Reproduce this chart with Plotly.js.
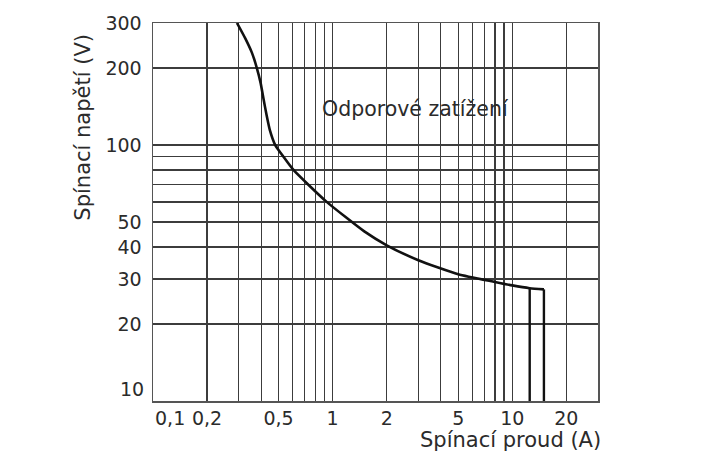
<!DOCTYPE html>
<html>
<head>
<meta charset="utf-8">
<script src="https://cdn.plot.ly/plotly-3.0.1.min.js"></script>
<style>html,body{margin:0;padding:0;background:#fff;}#chart{width:723px;height:459px;}</style>
</head>
<body>
<div id="chart"></div>
<script>
// Curve: switching voltage vs switching current (resistive load)
const currentA = [0.2933, 0.3268, 0.3551, 0.3785, 0.3968, 0.4122, 0.4282, 0.4472, 0.4792, 0.5325, 0.605, 0.7326, 0.9263, 1.5, 2.0, 3.0, 5.0, 8.0, 10, 12.5, 15];
const voltageV = [300, 260.6, 229.8, 200, 175.4, 151.9, 131.6, 114.4, 100, 90, 80, 70, 60, 46, 40.6, 35.5, 31.3, 29.2, 28.3, 27.6, 27.3];
// Vertical drop lines at end of curve
const dropX = [12.5, 15];
const dropTop = [27.6, 27.3];
const dropBottom = 10;

// Axis ticks
const xTickVals = [0.2, 0.5, 1, 2, 5, 10, 20];
const xTickText = ['0,2', '0,5', '1', '2', '5', '10', '20'];
const xMinorVals = [0.3, 0.4, 0.6, 0.7, 0.8, 0.9, 3, 4, 6, 7, 8, 9];
const yTickVals = [20, 30, 40, 50, 100, 200, 300];
const yTickText = ['20', '30', '40', '50', '100', '200', '300'];
const yMinorVals = [60, 70, 80, 90];

const xTitle = 'Spínací proud (A)';
const yTitle = 'Spínací napětí (V)';
const curveLabel = 'Odporové zatížení';

const FONT = 'DejaVu Sans, sans-serif';
const TXT = '#2b2b2b';
const GRID = '#3c3c3c';

const traces = [{
  x: currentA, y: voltageV, type: 'scatter', mode: 'lines',
  line: {color: '#111', width: 2.6, shape: 'spline', smoothing: 0.55},
  hoverinfo: 'skip', showlegend: false
}];
dropX.forEach((xv, i) => {
  traces.push({
    x: [xv, xv], y: [dropTop[i], dropBottom], type: 'scatter', mode: 'lines',
    line: {color: '#111', width: 2.4}, hoverinfo: 'skip', showlegend: false
  });
});

const layout = {
  width: 723, height: 459,
  margin: {l: 153, r: 125, t: 23, b: 58},
  paper_bgcolor: '#fff', plot_bgcolor: '#fff',
  font: {family: FONT, size: 19, color: TXT},
  showlegend: false,
  xaxis: {
    type: 'log', range: [-1, Math.log10(30)],
    tickmode: 'array', tickvals: xTickVals, ticktext: xTickText,
    showgrid: true, gridcolor: GRID, gridwidth: 1.3,
    minor: {tickmode: 'array', tickvals: xMinorVals, showgrid: true, gridcolor: GRID, gridwidth: 1.3, ticks: ''},
    showline: true, mirror: true, linecolor: '#555', linewidth: 1.5,
    ticks: '', zeroline: false, tickfont: {family: FONT, size: 19, color: TXT}
  },
  yaxis: {
    type: 'log', range: [1, Math.log10(300)],
    tickmode: 'array', tickvals: yTickVals, ticktext: yTickText,
    showgrid: true, gridcolor: GRID, gridwidth: 1.3,
    minor: {tickmode: 'array', tickvals: yMinorVals, showgrid: true, gridcolor: GRID, gridwidth: 1.3, ticks: ''},
    showline: true, mirror: true, linecolor: '#555', linewidth: 1.5,
    ticks: '', zeroline: false, tickfont: {family: FONT, size: 19, color: TXT},
    ticklabelstandoff: 6
  },
  shapes: [{
    type: 'rect', xref: 'paper', yref: 'paper', layer: 'between',
    x0: 0.358, x1: 0.668, y0: 0.731, y1: 0.819,
    fillcolor: '#fff', line: {width: 0}
  }],
  annotations: [
    {text: curveLabel, xref: 'x', yref: 'y', x: Math.log10(0.85), y: Math.log10(139),
     xanchor: 'left', yanchor: 'middle', showarrow: false, font: {family: FONT, size: 20.5, color: TXT}},
    {text: '0,1', xref: 'x', yref: 'paper', x: -1, y: 0, yanchor: 'top', xanchor: 'left', yshift: -4,
     showarrow: false, font: {family: FONT, size: 19, color: TXT}},
    {text: '10', xref: 'paper', yref: 'y', x: 0, y: 1, xanchor: 'right', yanchor: 'middle', xshift: -7, yshift: 12,
     showarrow: false, font: {family: FONT, size: 19, color: TXT}},
    {text: xTitle, xref: 'paper', yref: 'paper', x: 1, y: -0.1037, xanchor: 'right', yanchor: 'middle', xshift: 5,
     showarrow: false, font: {family: FONT, size: 21, color: TXT}},
    {text: yTitle, xref: 'paper', yref: 'paper', x: -0.1576, y: 0.7254, xanchor: 'center', yanchor: 'middle',
     textangle: -90, showarrow: false, font: {family: FONT, size: 21, color: TXT}}
  ]
};

Plotly.newPlot('chart', traces, layout, {displayModeBar: false, staticPlot: true});
</script>
</body>
</html>
